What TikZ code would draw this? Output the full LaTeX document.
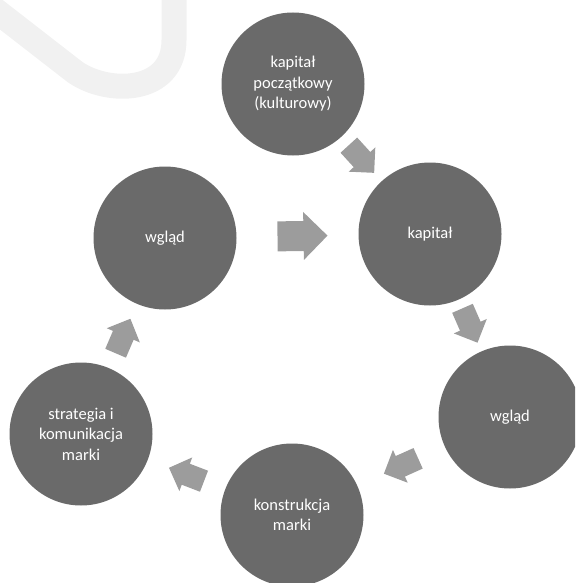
\documentclass[tikz,border=0pt]{standalone}
\usepackage{fontspec}
\setmainfont{Carlito}
\usetikzlibrary{calc}

\definecolor{circlegray}{HTML}{6A6A6A}
\definecolor{arrowgray}{HTML}{9C9C9C}
\definecolor{swooshgray}{HTML}{F1F1F1}

\tikzset{
  stage/.style={circle, fill=circlegray, minimum size=143pt, inner sep=0pt,
    text=white, align=center, font=\fontsize{16.5}{20.5}\selectfont},
  blockarrow/.pic={\fill[arrowgray] (-25,-15) -- (1,-15) -- (1,-24) -- (25,0)
    -- (1,24) -- (1,15) -- (-25,15) -- cycle;}
}

\begin{document}
\begin{tikzpicture}[x=1pt, y=-1pt]
\useasboundingbox (0,0) rectangle (575,583);
\clip (0,0) rectangle (575,583);

%the swoosh
\draw[swooshgray, line width=25pt] (-10,6) -- (75,72) .. controls (108,95) and (174,94) .. (174,40) -- (174,-10);

%the circles
\node[stage] (kapPocz) at (293,84) {kapitał\\początkowy\\(kulturowy)};
\node[stage] (kap) at (430,234) {kapitał};
\node[stage] (wgladR) at (510,417) {wgląd};
\node[stage] (konstr) at (292,515) {konstrukcja\\marki};
\node[stage] (strat) at (81,434) {strategia i\\komunikacja\\marki};
\node[stage] (wgladL) at (165,238) {wgląd};

%the arrows
\path let \p1=($(kap)-(kapPocz)$), \n1={atan2(\y1,\x1)} in ($(kapPocz)!0.5!(kap)$) pic[rotate=\n1, scale=0.75] {blockarrow};
\path let \p1=($(wgladR)-(kap)$), \n1={atan2(\y1,\x1)} in ($(kap)!0.5!(wgladR)$) pic[rotate=\n1, scale=0.75] {blockarrow};
\path let \p1=($(konstr)-(wgladR)$), \n1={atan2(\y1,\x1)} in ($(wgladR)!0.5!(konstr)$) pic[rotate=\n1, scale=0.75] {blockarrow};
\path let \p1=($(strat)-(konstr)$), \n1={atan2(\y1,\x1)} in ($(konstr)!0.5!(strat)$) pic[rotate=\n1, scale=0.75] {blockarrow};
\path let \p1=($(wgladL)-(strat)$), \n1={atan2(\y1,\x1)} in ($(strat)!0.5!(wgladL)$) pic[rotate=\n1, scale=0.75] {blockarrow};
\path let \p1=($(kap)-(wgladL)$), \n1={atan2(\y1,\x1)} in ($(wgladL)!0.5!(kap)+(5,0)$) pic[rotate=\n1] {blockarrow};
\end{tikzpicture}
\end{document}
